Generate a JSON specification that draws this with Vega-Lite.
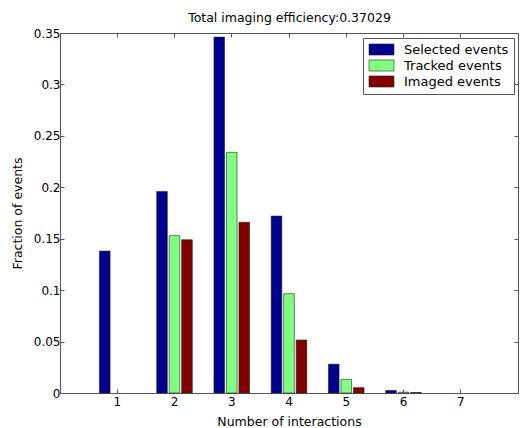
{
  "$schema": "https://vega.github.io/schema/vega-lite/v6.json",
  "width": 458,
  "height": 360,
  "autosize": {"type": "none"},
  "padding": {"left": 60, "top": 33, "right": 2, "bottom": 35},
  "background": "white",
  "config": {
    "font": "DejaVu Sans",
    "view": {"stroke": "#555555", "strokeWidth": 1},
    "axis": {"grid": false, "domain": false, "labelColor": "black", "titleColor": "black", "labelFontSize": 12, "titleFontSize": 12.5, "titleFontWeight": "normal", "tickColor": "#555555"}
  },
  "data": {
    "values": [
      {"n": "1", "series": "Selected events", "value": 0.138},
      {"n": "2", "series": "Selected events", "value": 0.196},
      {"n": "2", "series": "Tracked events", "value": 0.153},
      {"n": "2", "series": "Imaged events", "value": 0.149},
      {"n": "3", "series": "Selected events", "value": 0.346},
      {"n": "3", "series": "Tracked events", "value": 0.234},
      {"n": "3", "series": "Imaged events", "value": 0.166},
      {"n": "4", "series": "Selected events", "value": 0.172},
      {"n": "4", "series": "Tracked events", "value": 0.0965},
      {"n": "4", "series": "Imaged events", "value": 0.0515},
      {"n": "5", "series": "Selected events", "value": 0.028},
      {"n": "5", "series": "Tracked events", "value": 0.0133},
      {"n": "5", "series": "Imaged events", "value": 0.0052},
      {"n": "6", "series": "Selected events", "value": 0.0025},
      {"n": "6", "series": "Tracked events", "value": 0.0008},
      {"n": "6", "series": "Imaged events", "value": 0.0005}
    ]
  },
  "layer": [
    {
      "mark": {"type": "bar", "stroke": "#222222", "strokeWidth": 0.6},
      "encoding": {
        "x": {
          "field": "n", "type": "nominal",
          "scale": {"type": "band", "domain": ["1", "2", "3", "4", "5", "6", "7"], "paddingInner": 0.345, "paddingOuter": 0.6725},
          "axis": {"labelAngle": 0, "title": "Number of interactions", "tickSize": -4, "labelPadding": 7, "titlePadding": 8}
        },
        "xOffset": {
          "field": "series", "type": "nominal",
          "scale": {"domain": ["Selected events", "Tracked events", "Imaged events"], "paddingInner": 0.15, "paddingOuter": 0.075}
        },
        "y": {
          "field": "value", "type": "quantitative",
          "scale": {"domain": [0, 0.35], "nice": false},
          "axis": {"values": [0, 0.05, 0.1, 0.15, 0.2, 0.25, 0.3, 0.35], "format": "~g", "title": "Fraction of events", "tickSize": -4, "labelPadding": 4, "titlePadding": 9}
        },
        "color": {
          "field": "series", "type": "nominal",
          "scale": {"domain": ["Selected events", "Tracked events", "Imaged events"], "range": ["#00008f", "#80ff80", "#800000"]},
          "legend": {
            "title": null, "orient": "none", "legendX": 303, "legendY": 5,
            "fillColor": "white", "strokeColor": "#555555", "padding": 5,
            "symbolType": "M-2.08,-0.92H2.08V0.92H-2.08Z", "symbolSize": 144,
            "symbolStrokeColor": "#222222", "symbolStrokeWidth": 0.6, "symbolOpacity": 1,
            "labelFontSize": 13, "labelColor": "black", "labelOffset": 16, "rowPadding": 1, "symbolOffset": 7
          }
        }
      }
    },
    {
      "mark": {"type": "bar", "opacity": 0},
      "encoding": {
        "x": {
          "field": "n", "type": "nominal",
          "axis": {"orient": "top", "labels": false, "title": "Total imaging efficiency:0.37029", "titlePadding": 9, "tickSize": -4, "minExtent": 0, "maxExtent": 0}
        },
        "y": {
          "field": "value", "type": "quantitative",
          "axis": {"orient": "right", "labels": false, "title": null, "tickSize": -4, "minExtent": 0, "maxExtent": 0, "values": [0, 0.05, 0.1, 0.15, 0.2, 0.25, 0.3, 0.35]}
        }
      }
    }
  ],
  "resolve": {"axis": {"x": "independent", "y": "independent"}}
}
